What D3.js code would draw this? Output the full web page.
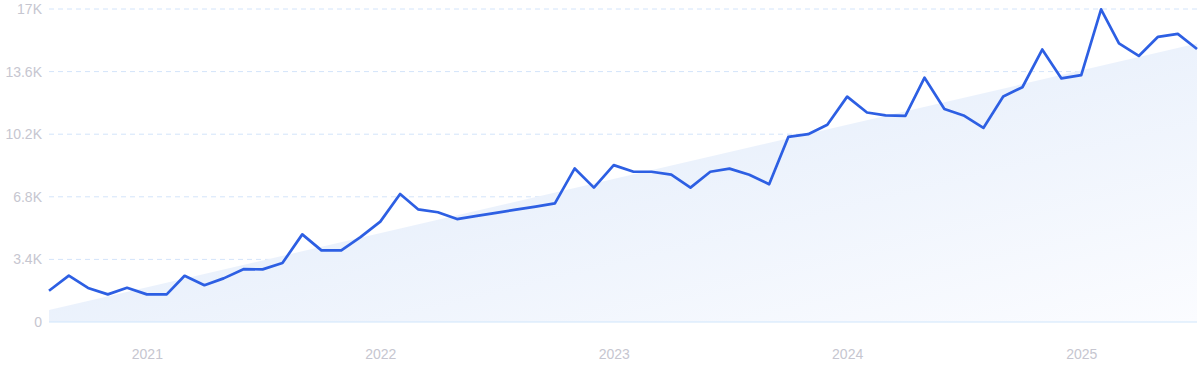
<!DOCTYPE html>
<meta charset="utf-8">
<title>Monthly trend</title>
<style>

body {
  margin: 0px;
  background: #fff;
  font: 14px Inter, "Noto Sans", sans-serif;
}

.grid line {
  stroke: #d3e4fa;
  stroke-dasharray: 5,4;
}

.axis text {
  fill: #c6c6d0;
  font-size: 14px;
}

.axis path, .axis line {
  display: none;
}

.line {
  fill: none;
  stroke: #2d5fe3;
  stroke-width: 2.7px;
  stroke-linejoin: round;
}

</style>

<script src="https://d3js.org/d3.v7.min.js"></script>

<body>
<script>

var width = 1200, height = 371;
var margin = {top: 9, right: 3, bottom: 49, left: 49};

// monthly values, Aug 2020 .. Jul 2025
var startMonth = new Date(2020, 7, 1);
var values = [
  1700, 2520, 1850, 1500, 1860, 1500, 1500, 2510, 2000, 2370, 2870, 2860,
  3200, 4760, 3890, 3890, 4610, 5450, 6950, 6120, 5960, 5590, 5760, 5930,
  6100, 6270, 6440, 8340, 7300, 8520, 8160, 8160, 8000, 7300, 8160, 8330,
  8000, 7480, 10050, 10200, 10710, 12240, 11380, 11220, 11200, 13270, 11570, 11220,
  10540, 12250, 12750, 14800, 13230, 13410, 16980, 15130, 14450, 15490, 15650, 14830
];

// trend band: value at first month, value at last month
var trend = [650, 15120];

var yTicks = [0, 3400, 6800, 10200, 13600, 17000];
var yLabels = ["0", "3.4K", "6.8K", "10.2K", "13.6K", "17K"];
var xYears = [2021, 2022, 2023, 2024, 2025];

var data = values.map(function(v, i) {
  return {date: d3.timeMonth.offset(startMonth, i), value: v};
});
var first = data[0].date, last = data[data.length - 1].date;

var svg = d3.select("body").append("svg")
    .attr("width", width)
    .attr("height", height);

var x = d3.scaleTime()
    .domain([first, last])
    .range([margin.left, width - margin.right]);

var y = d3.scaleLinear()
    .domain([0, 17000])
    .range([height - margin.bottom, margin.top]);

// gradient for the trend band
var grad = svg.append("defs").append("linearGradient")
    .attr("id", "band")
    .attr("x1", "0%").attr("y1", "0%")
    .attr("x2", "100%").attr("y2", "100%");
grad.append("stop").attr("offset", "0%").attr("stop-color", "#dce8f9");
grad.append("stop").attr("offset", "100%").attr("stop-color", "#fbfcff");

// gridlines
svg.append("g")
    .attr("class", "grid")
  .selectAll("line")
    .data(yTicks.slice(1))
  .enter().append("line")
    .attr("x1", margin.left)
    .attr("x2", width - margin.right)
    .attr("y1", function(d) { return y(d); })
    .attr("y2", function(d) { return y(d); });

// trend area
var band = [{date: first, value: trend[0]}, {date: last, value: trend[1]}];
svg.append("path")
    .datum(band)
    .attr("fill", "url(#band)")
    .attr("d", d3.area()
      .x(function(d) { return x(d.date); })
      .y0(y(0))
      .y1(function(d) { return y(d.value); }));

// baseline
svg.append("line")
    .attr("x1", margin.left)
    .attr("x2", width - margin.right)
    .attr("y1", y(0))
    .attr("y2", y(0))
    .attr("stroke", "#cfe5fb")
    .attr("stroke-width", 1.2);

// y axis labels
svg.append("g")
    .attr("class", "axis")
    .attr("transform", "translate(" + (margin.left - 7) + ",0)")
    .call(d3.axisLeft(y)
      .tickValues(yTicks)
      .tickSize(0)
      .tickPadding(0)
      .tickFormat(function(d, i) { return yLabels[i]; }));

// x axis labels
svg.append("g")
    .attr("class", "axis")
    .attr("transform", "translate(0," + (height - margin.bottom + 27) + ")")
    .call(d3.axisBottom(x)
      .tickValues(xYears.map(function(yr) { return new Date(yr, 0, 1); }))
      .tickSize(0)
      .tickPadding(0)
      .tickFormat(d3.timeFormat("%Y")));

// the line
svg.append("path")
    .datum(data)
    .attr("class", "line")
    .attr("d", d3.line()
      .x(function(d) { return x(d.date); })
      .y(function(d) { return y(d.value); }));

</script>
